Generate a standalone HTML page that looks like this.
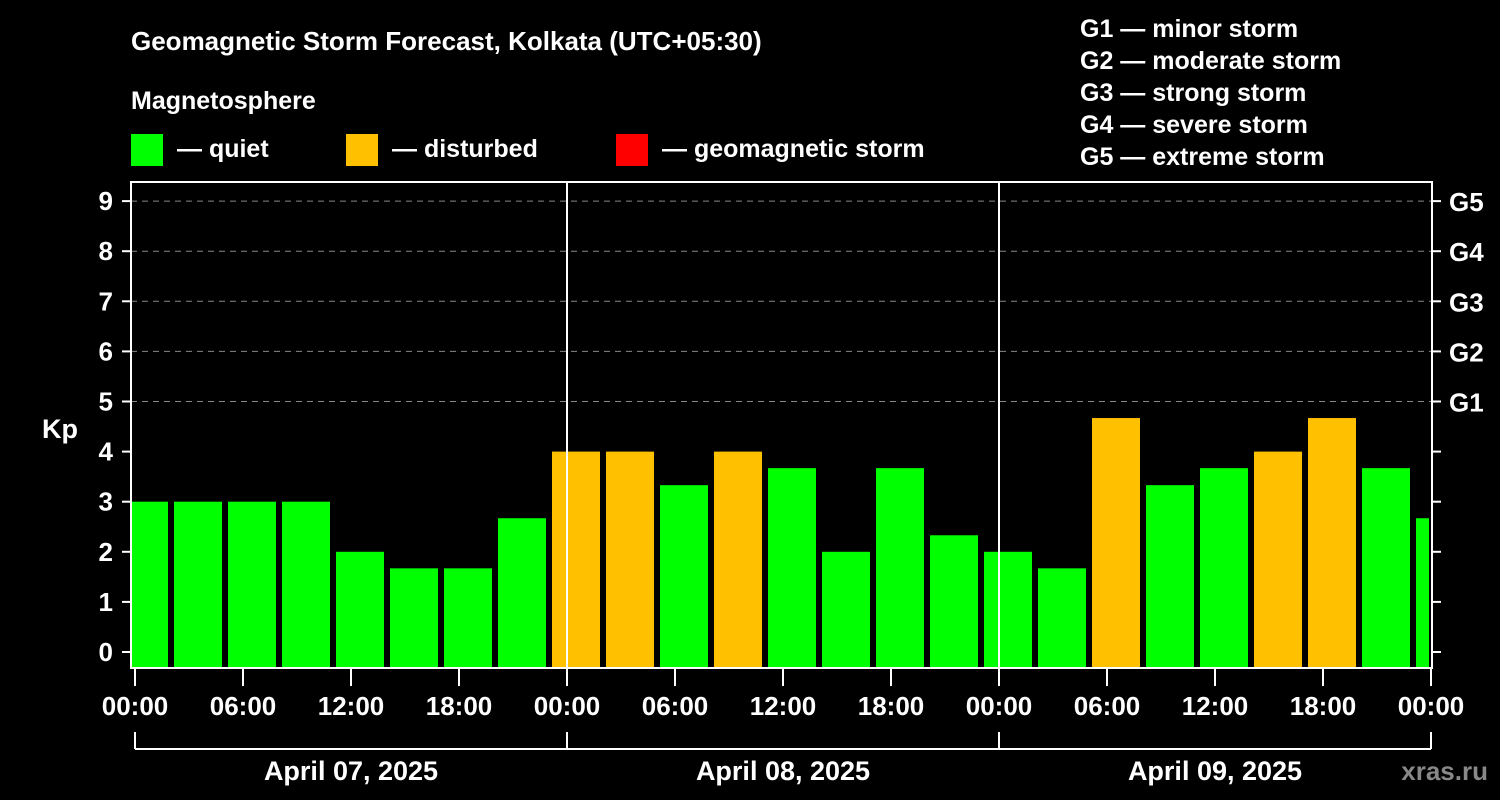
<!DOCTYPE html>
<html><head><meta charset="utf-8"><style>
body{margin:0;background:#000;}
svg{display:block;font-family:"Liberation Sans",Arial,sans-serif;font-weight:bold;}
</style></head><body>
<svg id="c" width="1500" height="800" viewBox="0 0 1500 800">
<rect width="1500" height="800" fill="#000"/>
<text x="131" y="50" fill="#fff" font-size="26">Geomagnetic Storm Forecast, Kolkata (UTC+05:30)</text>
<text x="131" y="109" fill="#fff" font-size="25">Magnetosphere</text>
<g>
<rect x="131" y="134" width="32" height="32" fill="#00ff00"/>
<text x="177" y="157" fill="#fff" font-size="25">— quiet</text>
<rect x="346" y="134" width="32" height="32" fill="#ffc000"/>
<text x="392" y="157" fill="#fff" font-size="25">— disturbed</text>
<rect x="616" y="134" width="32" height="32" fill="#ff0000"/>
<text x="662" y="157" fill="#fff" font-size="25">— geomagnetic storm</text>
</g>
<g fill="#fff" font-size="25">
<text x="1080" y="37">G1 — minor storm</text>
<text x="1080" y="69">G2 — moderate storm</text>
<text x="1080" y="101">G3 — strong storm</text>
<text x="1080" y="133">G4 — severe storm</text>
<text x="1080" y="165">G5 — extreme storm</text>
</g>
<text x="42" y="438" fill="#fff" font-size="27">Kp</text>
<text x="1488" y="780" fill="#888" font-size="26" text-anchor="end">xras.ru</text>
<g id="plot"></g>
</svg>
<script>
const kpValues=[3,3,3,3,2,1.67,1.67,2.67,4,4,3.33,4,3.67,2,3.67,2.33,2,1.67,4.67,3.33,3.67,4,4.67,3.67,2.67];
const yTicks=[0,1,2,3,4,5,6,7,8,9];
const gLabels=["G1","G2","G3","G4","G5"];
const xTickLabels=["00:00","06:00","12:00","18:00","00:00","06:00","12:00","18:00","00:00","06:00","12:00","18:00","00:00"];
const dayLabels=["April 07, 2025","April 08, 2025","April 09, 2025"];
const NS="http://www.w3.org/2000/svg";
const plot=document.getElementById('plot');
const L=131,R=1432,T=182,B=668,X0=135,PXH=18;
const x=h=>X0+h*PXH;
const y=v=>652-v*50.1;
function mk(tag,a,p){const e=document.createElementNS(NS,tag);for(const k in a)e.setAttribute(k,a[k]);(p||plot).appendChild(e);return e;}
const defs=mk('defs',{});const cp=mk('clipPath',{id:'cp'},defs);mk('rect',{x:L+1,y:T,width:R-L-4,height:B-T},cp);
// grid
[5,6,7,8,9].forEach(v=>{const g=mk('line',{x1:L,x2:R,y1:y(v),y2:y(v),stroke:'#888','stroke-width':1,'stroke-dasharray':'6,5'});

});
// bars
const bg=mk('g',{'clip-path':'url(#cp)'});
kpValues.forEach((v,i)=>{const c=x(0.5+3*i);
const r=mk('rect',{x:c-24,y:y(v),width:48,height:B-y(v),fill:v>=5?'#ff0000':(v>=4?'#ffc000':'#00ff00')},bg);

});
// day separators
[24,48].forEach(h=>{const l=mk('line',{x1:x(h),x2:x(h),y1:T,y2:B,stroke:'#fff','stroke-width':2});

});
// frame
const f=mk('rect',{x:L,y:T,width:R-L,height:B-T,fill:'none',stroke:'#fff','stroke-width':2});


yTicks.forEach(v=>{mk('line',{x1:L-9,x2:L,y1:y(v),y2:y(v),stroke:'#fff','stroke-width':2});
mk('line',{x1:R,x2:R+9,y1:y(v),y2:y(v),stroke:'#fff','stroke-width':2});
const t=mk('text',{x:113,y:y(v)+9,fill:'#fff','font-size':26,'text-anchor':'end'});t.textContent=v;

});
gLabels.forEach((g,i)=>{const t=mk('text',{x:1449,y:y(5+i)+10,fill:'#fff','font-size':26});t.textContent=g;

});
xTickLabels.forEach((s,i)=>{const xx=x(i*6);
mk('line',{x1:xx,x2:xx,y1:B,y2:B+18,stroke:'#fff','stroke-width':2});
const t=mk('text',{x:xx,y:715,fill:'#fff','font-size':26,'text-anchor':'middle'});t.textContent=s;

});
mk('line',{x1:x(0),x2:x(72),y1:749,y2:749,stroke:'#fff','stroke-width':2});
[0,24,48,72].forEach(h=>mk('line',{x1:x(h),x2:x(h),y1:732,y2:749,stroke:'#fff','stroke-width':2}));
dayLabels.forEach((s,i)=>{const t=mk('text',{x:x(12+24*i),y:780,fill:'#fff','font-size':27,'text-anchor':'middle'});t.textContent=s;

});
</script>
</body></html>
